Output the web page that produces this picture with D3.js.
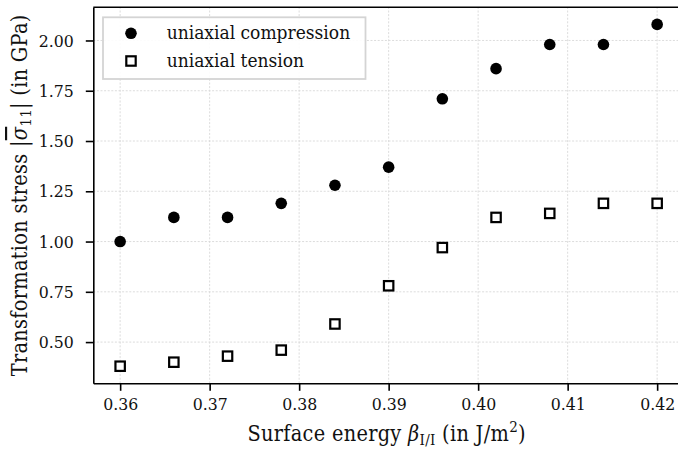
<!DOCTYPE html>
<html>
<head>
<meta charset="utf-8">
<script src="https://cdn.jsdelivr.net/npm/d3@7"></script>
<style>
  body { margin: 0; background: #fff; }
  svg text { font-family: "DejaVu Serif Condensed", "DejaVu Serif", serif; }
  .grid line { stroke: #d8d8d8; stroke-width: 0.9; stroke-dasharray: 2,1.6; }
</style>
</head>
<body>
<div id="vis"></div>
<script>
// surface energy beta_I/I (J/m^2)
var beta = [0.360, 0.366, 0.372, 0.378, 0.384, 0.390, 0.396, 0.402, 0.408, 0.414, 0.420];
// |sigma_11| in GPa
var compression = [1.00, 1.12, 1.12, 1.19, 1.28, 1.37, 1.71, 1.86, 1.98, 1.98, 2.08];
var tension = [0.38, 0.40, 0.43, 0.46, 0.59, 0.78, 0.97, 1.12, 1.14, 1.19, 1.19];
var xTicks = [0.36, 0.37, 0.38, 0.39, 0.40, 0.41, 0.42];
var yTicks = [0.50, 0.75, 1.00, 1.25, 1.50, 1.75, 2.00];
var legendLabels = ["uniaxial compression", "uniaxial tension"];

var W = 678, H = 456;
var margin = {top: 7.3, left: 93.3, bottom: 72.7};
var plotRight = 684; // right spine falls just outside the picture

var svg = d3.select("#vis").append("svg")
  .attr("width", W)
  .attr("height", H);

var x = d3.scaleLinear()
  .domain([0.357, 0.423])
  .range([margin.left, plotRight]);

var y = d3.scaleLinear()
  .domain([0.295, 2.165])
  .range([H - margin.bottom, margin.top]);

// grid
var grid = svg.append("g").attr("class", "grid");
grid.selectAll("line.v").data(xTicks).enter().append("line")
  .attr("x1", function(d) { return x(d); })
  .attr("x2", function(d) { return x(d); })
  .attr("y1", y.range()[0])
  .attr("y2", y.range()[1]);
grid.selectAll("line.h").data(yTicks).enter().append("line")
  .attr("x1", x.range()[0])
  .attr("x2", x.range()[1])
  .attr("y1", function(d) { return y(d); })
  .attr("y2", function(d) { return y(d); });

// axes
var xAxis = svg.append("g")
  .attr("transform", "translate(0," + y.range()[0] + ")")
  .call(d3.axisBottom(x).tickValues(xTicks).tickFormat(d3.format(".2f")).tickSizeInner(7.5).tickSizeOuter(0).tickPadding(7));

var yAxis = svg.append("g")
  .attr("transform", "translate(" + x.range()[0] + ",0)")
  .call(d3.axisLeft(y).tickValues(yTicks).tickFormat(d3.format(".2f")).tickSizeInner(7.5).tickSizeOuter(0).tickPadding(12));

[xAxis, yAxis].forEach(function(a) {
  a.attr("font-family", null);
  a.select(".domain").attr("stroke", "#000").attr("stroke-width", 1.6);
  a.selectAll(".tick line").attr("stroke", "#000").attr("stroke-width", 1.6);
  a.selectAll(".tick text").attr("fill", "#111").attr("font-size", 17.5);
});

// top spine
svg.append("line")
  .attr("x1", x.range()[0]).attr("x2", x.range()[1])
  .attr("y1", y.range()[1]).attr("y2", y.range()[1])
  .attr("stroke", "#000").attr("stroke-width", 1.6);

// points
svg.append("g").selectAll("circle")
  .data(beta.map(function(b, i) { return [b, compression[i]]; }))
  .enter().append("circle")
  .attr("cx", function(d) { return x(d[0]); })
  .attr("cy", function(d) { return y(d[1]); })
  .attr("r", 5.8)
  .attr("fill", "#000");

var sq = 9.4;
svg.append("g").selectAll("rect")
  .data(beta.map(function(b, i) { return [b, tension[i]]; }))
  .enter().append("rect")
  .attr("x", function(d) { return x(d[0]) - sq / 2; })
  .attr("y", function(d) { return y(d[1]) - sq / 2; })
  .attr("width", sq)
  .attr("height", sq)
  .attr("fill", "#fff")
  .attr("stroke", "#000")
  .attr("stroke-width", 2.2);

// legend
var legend = svg.append("g");
legend.append("rect")
  .attr("x", 103).attr("y", 17.3)
  .attr("width", 262.5).attr("height", 61.7)
  .attr("fill", "#fff").attr("fill-opacity", 0.9)
  .attr("stroke", "#d4d4d4").attr("stroke-width", 1.8);

var items = legend.selectAll("g.item").data(legendLabels).enter().append("g")
  .attr("transform", function(d, i) { return "translate(131," + (33.3 + i * 27.7) + ")"; });
items.filter(function(d, i) { return i === 0; }).append("circle")
  .attr("r", 5.8).attr("fill", "#000");
items.filter(function(d, i) { return i === 1; }).append("rect")
  .attr("x", -sq / 2).attr("y", -sq / 2).attr("width", sq).attr("height", sq)
  .attr("fill", "#fff").attr("stroke", "#000").attr("stroke-width", 2.2);
items.append("text")
  .attr("x", 35.7)
  .attr("dy", "0.32em")
  .attr("font-size", 19)
  .attr("fill", "#111")
  .text(function(d) { return d; });

// x title
var xt = svg.append("text")
  .attr("x", (x.range()[0] + x.range()[1]) / 2 - 2)
  .attr("y", 441)
  .attr("text-anchor", "middle")
  .attr("font-size", 21.5)
  .attr("letter-spacing", 0.3)
  .attr("fill", "#111");
xt.append("tspan").text("Surface energy ");
xt.append("tspan").attr("font-style", "italic").text("β");
xt.append("tspan").attr("font-size", 15).attr("dy", 4).text("I/I");
xt.append("tspan").attr("dy", -4).text(" (in J/m");
xt.append("tspan").attr("font-size", 15).attr("dy", -9).text("2");
xt.append("tspan").attr("dy", 9).text(")");

// y title
var yt = svg.append("text")
  .attr("transform", "translate(27," + ((y.range()[0] + y.range()[1]) / 2) + ") rotate(-90)")
  .attr("text-anchor", "middle")
  .attr("font-size", 21.5)
  .attr("letter-spacing", 0.3)
  .attr("fill", "#111");
yt.append("tspan").text("Transformation stress |");
yt.append("tspan").attr("font-style", "italic").style("text-decoration", "overline").text("σ");
yt.append("tspan").attr("font-size", 15).attr("dy", 4).text("11");
yt.append("tspan").attr("dy", -4).text("| (in GPa)");
</script>
</body>
</html>
